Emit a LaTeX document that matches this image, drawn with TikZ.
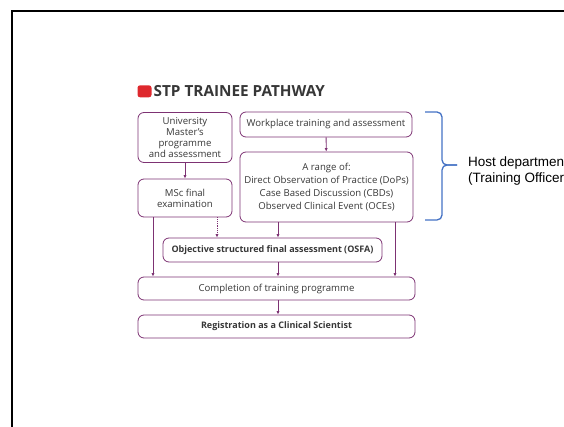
\documentclass[tikz,border=0pt]{standalone}
\usepackage{fontspec}
\setmainfont{Open Sans}
\newfontfamily\arialfont{Liberation Sans}
\usetikzlibrary{arrows.meta}
\definecolor{plum}{RGB}{125,50,115}
\definecolor{txt}{RGB}{55,55,55}
\definecolor{bred}{RGB}{222,40,45}
\definecolor{bblue}{RGB}{68,114,196}
\tikzset{
  box/.style={draw=plum, line width=0.8pt, rounded corners=6pt, text=txt,
    font=\fontsize{9.6}{11}\selectfont, align=center, inner sep=0pt},
  boldbox/.style={box, font=\fontsize{9}{11}\selectfont\bfseries},
  arr/.style={draw=plum, line width=0.8pt, -{Latex[length=3.5pt,width=3.2pt]}},
  darr/.style={arr, densely dotted},
  bracepart/.style={bblue, line width=1.3pt, rounded corners=5pt},
  hosttext/.style={anchor=base west, inner sep=0pt, font=\arialfont\fontsize{13.5}{16}\selectfont}
}
\begin{document}
\begin{tikzpicture}[x=1pt,y=-1pt]
\useasboundingbox (0,0) rectangle (564,427);
\begin{scope}
\clip (0,0) rectangle (564,427);
\draw[line width=2pt] (11.5,440) -- (11.5,11.5) -- (580,11.5);
% title
\node[fill=bred, rounded corners=2.5pt, minimum width=14pt, minimum height=12pt, inner sep=0pt] (sq) at (144.5,91.3) {};
\node[anchor=base west, inner sep=0pt, text=txt, font=\fontsize{15.3}{17}\selectfont\bfseries] (title) at (153.5,97) {STP TRAINEE PATHWAY};
% boxes
\node[box, minimum width=94pt, minimum height=50pt] (univ) at (185,137.5) {University\\Master's\\programme\\and assessment};
\node[box, minimum width=94pt, minimum height=38pt] (msc) at (185,198) {MSc final\\examination};
\node[box, minimum width=172pt, minimum height=25pt] (work) at (326,124.5) {Workplace training and assessment};
\node[box, minimum width=173pt, minimum height=70pt, font=\fontsize{9.6}{12.8}\selectfont] (range) at (326.5,187) {A range of:\\Direct Observation of Practice (DoPs)\\Case Based Discussion (CBDs)\\Observed Clinical Event (OCEs)};
\node[boldbox, minimum width=219pt, minimum height=24pt] (osfa) at (272.5,250) {Objective structured final assessment (OSFA)};
\node[box, minimum width=277pt, minimum height=23pt] (comp) at (276.5,288.5) {Completion of training programme};
\node[boldbox, minimum width=277pt, minimum height=23pt] (reg) at (276.5,326.5) {Registration as a Clinical Scientist};
% columns
\coordinate (c1) at (153,0);
\coordinate (c2) at (217,0);
\coordinate (c3) at (278,0);
\coordinate (c4) at (395,0);
\draw[arr] (univ) -- (msc);
\draw[arr] (work) -- (range);
\draw[arr] (msc.south -| c1) -- (comp.north -| c1);
\draw[darr] (msc.south -| c2) -- (osfa.north -| c2);
\draw[arr] (range.south -| c3) -- (osfa.north -| c3);
\draw[arr] (osfa.south -| c3) -- (comp.north -| c3);
\draw[arr] (range.south -| c4) -- (comp.north -| c4);
\draw[arr] (comp.south -| c3) -- (reg.north -| c3);
% brace
\coordinate (btop) at (425,112);
\coordinate (bbot) at (425,220);
\coordinate (btip) at (457,165);
\coordinate (bmid) at (442,165);
\draw[bracepart] (btop) -| (bmid) -- (btip);
\draw[bracepart] (bbot) -| (bmid) -- (btip);
\node[hosttext] (host1) at (468,166.5) {Host department};
\node[hosttext] (host2) at (468,183) {(Training Officer)};
\end{scope}
\end{tikzpicture}
\end{document}
